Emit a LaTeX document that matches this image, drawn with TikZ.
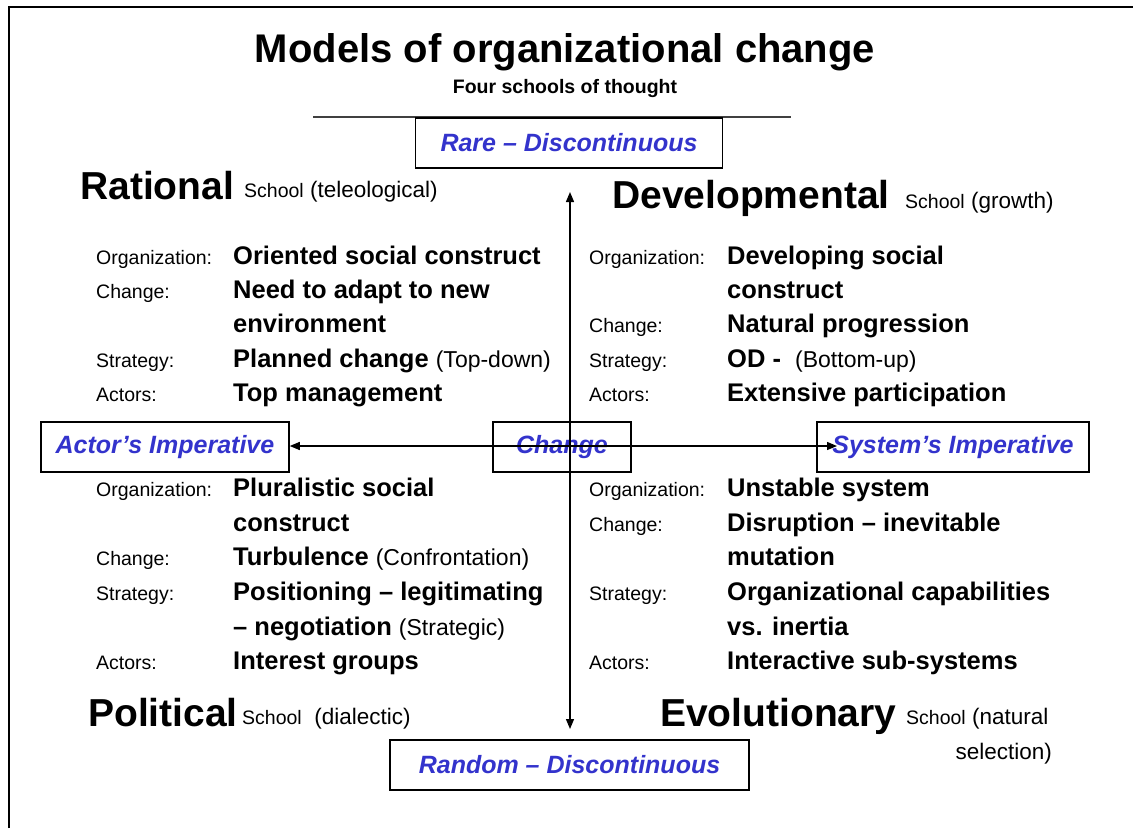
\documentclass[tikz,border=0pt]{standalone}
\usepackage{fontspec}
\setmainfont{Liberation Sans}
\usetikzlibrary{arrows.meta}
\definecolor{impblue}{RGB}{51,51,204}
\newcommand{\plain}[1]{{\fontsize{23}{26}\selectfont\mdseries #1}}
\newcommand{\schoolword}{{\fontsize{19.5}{22}\selectfont School}}

\begin{document}
\begin{tikzpicture}[x=1pt,y=-1pt,
    box/.style={draw,line width=1.5pt,minimum height=50pt,inner sep=0pt,
      font=\fontsize{25}{30}\selectfont\bfseries\itshape,text=impblue},
    school/.style={anchor=base west,inner sep=0pt,font=\fontsize{39}{44}\selectfont\bfseries},
    note/.style={anchor=base west,inner sep=0pt,font=\fontsize{22.5}{26}\selectfont},
    lbl/.style={anchor=base west,inner sep=0pt,font=\fontsize{19.5}{22}\selectfont},
    val/.style={anchor=base west,inner sep=0pt,font=\fontsize{25.5}{30}\selectfont\bfseries},
    arr/.style={line width=1.3pt,{Triangle[length=10pt,width=8pt]}-{Triangle[length=10pt,width=8pt]}}]
  \useasboundingbox (0,0) rectangle (1136,828);
  % frame
  \draw[line width=2pt] (9,828) -- (9,7) -- (1133,7);
  % title
  \node[anchor=base,inner sep=0pt,font=\fontsize{40}{48}\selectfont\bfseries] (title) at (565,62) {Models of organizational change};
  \node[anchor=base,inner sep=0pt,font=\fontsize{19.5}{24}\selectfont\bfseries] (subtitle) at (565,93) {Four schools of thought};
  \draw[line width=2pt,black!75] (313,117) -- (791,117);
  % boxes
  \node[box,minimum width=307pt] (rare) at (569,143) {Rare -- Discontinuous};
  \node[box,minimum width=248pt] (actor) at (165,447) {Actor's Imperative};
  \node[box,minimum width=138pt] (change) at (562,447) {Change};
  \node[box,minimum width=272pt] (system) at (953,447) {System's Imperative};
  \node[box,minimum width=359pt] (random) at (569.5,765) {Random -- Discontinuous};
  % schools
  \node[school] (rational) at (80,199) {Rational};
  \node[note] (rationaln) at (244,197) {\schoolword{} (teleological)};
  \node[school] (developmental) at (612,208) {Developmental};
  \node[note] (developmentaln) at (905,208) {\schoolword{} (growth)};
  \node[school] (political) at (88,726) {Political};
  \node[note] (politicaln) at (242,724) {\schoolword{}\ \ (dialectic)};
  \node[school] (evolutionary) at (660,726) {Evolutionary};
  \node[note] (evolutionaryn) at (906,724) {\schoolword{} (natural};
  \node[note,anchor=base east] (evolutionarym) at (1052,759) {selection)};
  % rational
  \node[lbl] (ra1) at (96,264) {Organization:};
  \node[lbl] (ra2) at (96,298) {Change:};
  \node[lbl] (ra3) at (96,367) {Strategy:};
  \node[lbl] (ra4) at (96,401) {Actors:};
  \node[val] (rb1) at (233,264) {Oriented social construct};
  \node[val] (rb2) at (233,298) {Need to adapt to new};
  \node[val] (rb3) at (233,332) {environment};
  \node[val] (rb4) at (233,367) {Planned change \plain{(Top-down)}};
  \node[val] (rb5) at (233,401) {Top management};
  % developmental
  \node[lbl] (da1) at (589,264) {Organization:};
  \node[lbl] (da2) at (589,332) {Change:};
  \node[lbl] (da3) at (589,367) {Strategy:};
  \node[lbl] (da4) at (589,401) {Actors:};
  \node[val] (db1) at (727,264) {Developing social};
  \node[val] (db2) at (727,298) {construct};
  \node[val] (db3) at (727,332) {Natural progression};
  \node[val] (db4) at (727,367) {OD -\ \ \plain{(Bottom-up)}};
  \node[val] (db5) at (727,401) {Extensive participation};
  % political
  \node[lbl] (pa1) at (96,496) {Organization:};
  \node[lbl] (pa2) at (96,565) {Change:};
  \node[lbl] (pa3) at (96,600) {Strategy:};
  \node[lbl] (pa4) at (96,669) {Actors:};
  \node[val] (pb1) at (233,496) {Pluralistic social};
  \node[val] (pb2) at (233,531) {construct};
  \node[val] (pb3) at (233,565) {Turbulence \plain{(Confrontation)}};
  \node[val] (pb4) at (233,600) {Positioning -- legitimating};
  \node[val] (pb5) at (233,635) {-- negotiation \plain{(Strategic)}};
  \node[val] (pb6) at (233,669) {Interest groups};
  % evolutionary
  \node[lbl] (ea1) at (589,496) {Organization:};
  \node[lbl] (ea2) at (589,531) {Change:};
  \node[lbl] (ea3) at (589,600) {Strategy:};
  \node[lbl] (ea4) at (589,669) {Actors:};
  \node[val] (eb1) at (727,496) {Unstable system};
  \node[val] (eb2) at (727,531) {Disruption -- inevitable};
  \node[val] (eb3) at (727,565) {mutation};
  \node[val] (eb4) at (727,600) {Organizational capabilities};
  \node[val] (eb5) at (727,635) {vs. inertia};
  \node[val] (eb6) at (727,669) {Interactive sub-systems};
  % axes
  \coordinate (vtop) at (570,192);
  \coordinate (vbot) at (570,729);
  \coordinate (sysin) at (837,446);
  \draw[arr] (vtop) -- (vbot);
  \draw[arr] (actor.east |- sysin) -- (sysin);
\end{tikzpicture}
\end{document}
